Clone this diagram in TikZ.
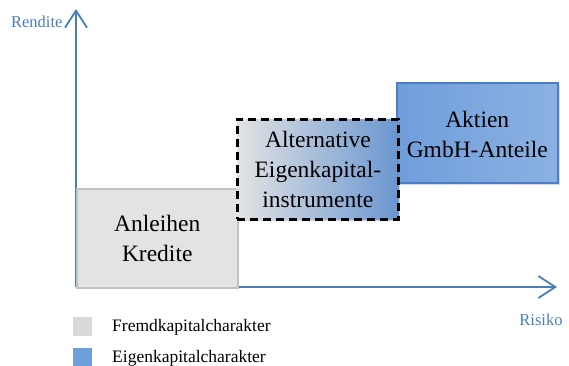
\documentclass[tikz,border=0pt]{standalone}
\usepackage{fontspec}
\setmainfont{Liberation Serif}
\usetikzlibrary{arrows.meta,shadows}

\definecolor{axisblue}{HTML}{4A7EBB}
\definecolor{fkgray}{HTML}{E3E3E3}
\definecolor{fkline}{HTML}{C3C3C3}
\definecolor{leggray}{HTML}{D9D9D9}
\definecolor{ekblue}{HTML}{6F9EDB}
\definecolor{ekline}{HTML}{4A7FC8}

\tikzset{
    axis/.style={draw=axisblue, line width=1.8pt, -{Straight Barb[length=17pt,width=22pt,line width=1.8pt]}},
    axislabel/.style={text=axisblue, font=\fontsize{16.5}{18}\selectfont},
    boxtext/.style={align=center, font=\fontsize{23.5}{30}\selectfont, inner sep=0pt},
    legendbox/.style={minimum size=19pt, inner sep=0pt, anchor=north west},
    legendtext/.style={font=\fontsize{17.5}{19}\selectfont, anchor=west, inner sep=0pt}
}

\begin{document}
\begin{tikzpicture}[x=1pt,y=-1pt]
\useasboundingbox (0,0) rectangle (569,365);

% Axes
\coordinate (origin) at (76,287);
\coordinate (ytip) at (76,9);
\coordinate (xtip) at (557,287);
\draw[axis] (origin) -- (ytip);
\draw[axis] (origin) -- (xtip);
\node[axislabel, anchor=east] (rendite) at (66,22) {Rendite};
\node[axislabel] (risiko) at (541,320) {Risiko};

% Boxes
\node[draw=fkline, line width=1.5pt, fill=fkgray, minimum width=161pt, minimum height=99pt,
      anchor=north west] (kredite) at (76,188) {};
\node[boxtext] at (kredite.center) {Anleihen\\Kredite};

\node[draw=ekline, line width=1.5pt, left color=ekblue, right color=ekblue!80!white,
      minimum width=161pt, minimum height=100pt, anchor=north west,
      drop shadow={shadow xshift=2pt, shadow yshift=-2pt, opacity=0.3}] (aktien) at (396,82) {};
\node[boxtext] at ([yshift=-2pt]aktien.center) {Aktien\\GmbH-Anteile};

\node[draw=black, dash pattern=on 8pt off 5pt, line width=2.8pt,
      left color=fkgray, right color=ekblue!95!black,
      minimum width=161pt, minimum height=100pt, anchor=north west,
      drop shadow={shadow xshift=2pt, shadow yshift=-2pt, opacity=0.3}] (alternativ) at (236,118) {};
\node[boxtext] at (alternativ.center) {Alternative\\Eigenkapital-\\instrumente};

% Legend
\node[legendbox, fill=leggray] (legfk) at (73,317) {};
\node[legendtext] (legfktext) at (112,327) {Fremdkapitalcharakter};
\node[legendbox, fill=ekblue] (legek) at (73,348) {};
\node[legendtext] (legektext) at (112,358) {Eigenkapitalcharakter};

\end{tikzpicture}
\end{document}
